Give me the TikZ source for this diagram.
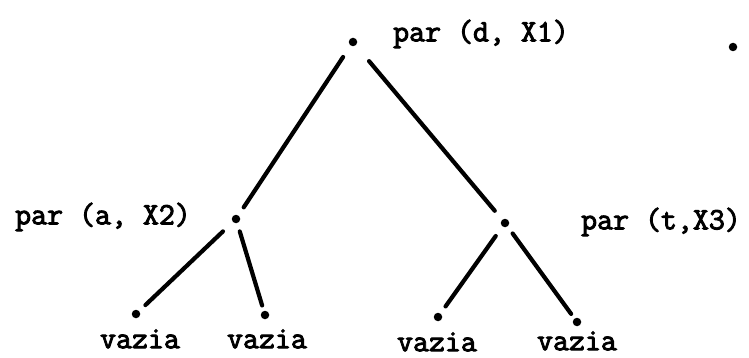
\documentclass[tikz,border=0pt]{standalone}
\usepackage{fontspec}
\newfontfamily\twfont[FakeBold=3]{Latin Modern Mono}
\begin{document}
\begin{tikzpicture}[x=1pt,y=-1pt,
  dot/.style={circle,fill=black,inner sep=0pt,minimum size=8.5pt},
  lbl/.style={inner sep=0pt,anchor=center,font=\twfont\fontsize{31}{34}\selectfont},
  edge/.style={line width=4.2pt,line cap=round}]
\useasboundingbox (0,0) rectangle (749,358);
\node[dot] (r) at (353,42) {};
\node[dot] (extra) at (733,47) {};
\node[dot] (l) at (236,219) {};
\node[dot] (m) at (505,223) {};
\node[dot] (l1) at (136,314) {};
\node[dot] (l2) at (265,315) {};
\node[dot] (m1) at (438,317) {};
\node[dot] (m2) at (577,322) {};
\node[lbl] (tr) at (481,34) {par (d, X1)};
\node[lbl] (tl) at (103,217) {par (a, X2)};
\node[lbl] (tm) at (661,222) {par (t,X3)};
\node[lbl] (v1) at (140,339) {vazia};
\node[lbl] (v2) at (267,339) {vazia};
\node[lbl] (v3) at (437,342) {vazia};
\node[lbl] (v4) at (577,341) {vazia};
\draw[edge,shorten <=18pt,shorten >=14pt] (r.center) -- (l.center);
\draw[edge,shorten <=25pt,shorten >=16pt] (r.center) -- (m.center);
\draw[edge,shorten <=18pt,shorten >=13pt] (l.center) -- (l1.center);
\draw[edge,shorten <=13pt,shorten >=10pt] (l.center) -- (l2.center);
\draw[edge,shorten <=16pt,shorten >=13pt] (m.center) -- (m1.center);
\draw[edge,shorten <=13pt,shorten >=10pt] (m.center) -- (m2.center);
\end{tikzpicture}
\end{document}
